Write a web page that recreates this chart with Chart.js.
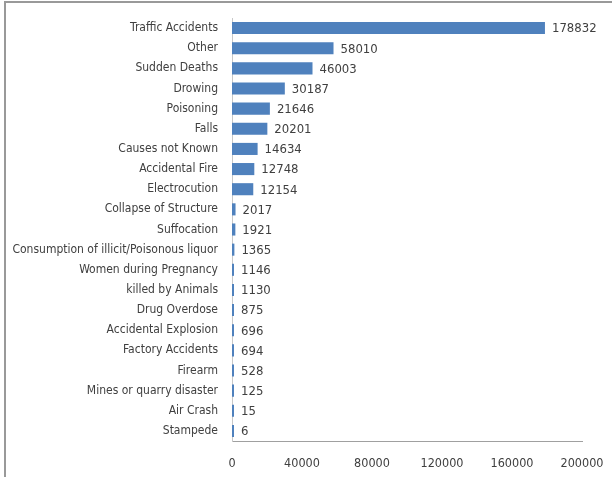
<!DOCTYPE html>
<html>
<head>
<meta charset="utf-8">
<script src="https://cdn.jsdelivr.net/npm/chart.js@4"></script>
<style>
  html, body { margin: 0; padding: 0; background: #fff; overflow: hidden; }
  #wrap { position: relative; width: 612px; height: 477px; }
  #frame { position: absolute; left: 4px; top: 1px; width: 700px; height: 600px;
           border-left: 2px solid #999; border-top: 2px solid #999; }
  canvas { position: absolute; left: 0; top: 0; }
</style>
</head>
<body>
<div id="wrap">
  <div id="frame"></div>
  <canvas id="bar-chart" width="612" height="477"></canvas>
</div>
<script>
// causes of accidental deaths
let causes = [
  "Traffic Accidents", "Other", "Sudden Deaths", "Drowing", "Poisoning", "Falls",
  "Causes not Known", "Accidental Fire", "Electrocution", "Collapse of Structure",
  "Suffocation", "Consumption of illicit/Poisonous liquor", "Women during Pregnancy",
  "killed by Animals", "Drug Overdose", "Accidental Explosion", "Factory Accidents",
  "Firearm", "Mines or quarry disaster", "Air Crash", "Stampede"
]
let deaths = [
  178832, 58010, 46003, 30187, 21646, 20201, 14634, 12748, 12154, 2017,
  1921, 1365, 1146, 1130, 875, 696, 694, 528, 125, 15, 6
]
let xTicks = [0, 40000, 80000, 120000, 160000, 200000]

let fontFam = "'DejaVu Sans Condensed', 'Liberation Sans', sans-serif"
let textCol = "#404040"

// draw the value next to each bar
let barValues = {
  id: "barValues",
  afterDatasetsDraw: function(chart){
    let ctx = chart.ctx
    ctx.save()
    ctx.font = "13px " + fontFam
    ctx.fillStyle = textCol
    ctx.textBaseline = "middle"
    ctx.textAlign = "left"
    chart.getDatasetMeta(0).data.forEach(function(bar, i){
      ctx.fillText(deaths[i], bar.x + 7, bar.y + 1)
    })
    ctx.restore()
  }
}

new Chart(document.getElementById("bar-chart"), {
  type: 'bar',
  data: {
    labels: causes,
    datasets: [{
      data: deaths,
      backgroundColor: "#4f81bd",
      barPercentage: 0.6,
      categoryPercentage: 1,
      minBarLength: 2
    }]
  },
  options: {
    indexAxis: 'y',
    responsive: false,
    animation: false,
    layout: { padding: { left: 0, right: 30, top: 18, bottom: 0 } },
    plugins: {
      legend: { display: false },
      tooltip: { enabled: false }
    },
    scales: {
      x: {
        min: 0,
        max: 200000,
        afterBuildTicks: function(axis){
          axis.ticks = xTicks.map(function(v){ return { value: v } })
        },
        grid: { display: false, drawTicks: false },
        border: { display: true, color: "#a0a0a0", width: 1 },
        ticks: {
          padding: 15,
          color: textCol,
          font: { family: fontFam, size: 12.5 },
          maxRotation: 0,
          callback: function(v){ return String(v) }
        },
        afterFit: function(axis){
          axis.height = 36
          axis.paddingLeft = 0
          axis.paddingRight = 0
        }
      },
      y: {
        grid: { display: false, drawTicks: false },
        border: { display: true, color: "#c8c8c8", width: 1 },
        ticks: {
          padding: 14,
          color: textCol,
          font: { family: fontFam, size: 12 },
          autoSkip: false
        },
        afterFit: function(axis){
          axis.width = 232
          axis.paddingTop = 0
          axis.paddingBottom = 0
        }
      }
    }
  },
  plugins: [barValues]
});
</script>
</body>
</html>
